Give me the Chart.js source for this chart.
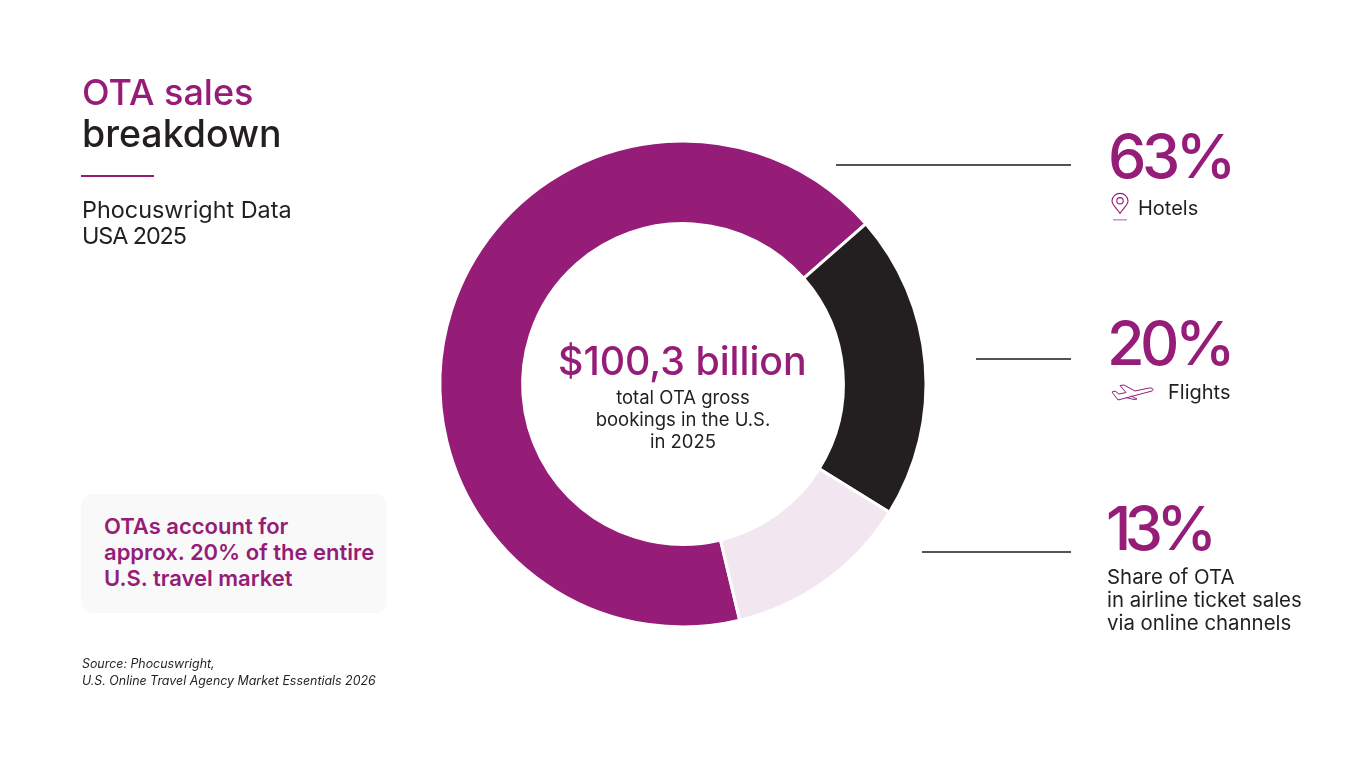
<!DOCTYPE html>
<html lang="en">
<head>
<meta charset="utf-8">
<title>OTA sales breakdown</title>
<script src="https://cdn.jsdelivr.net/npm/chart.js@4"></script>
<style>
  html, body { margin: 0; padding: 0; background: #fff; }
  #page { position: relative; width: 1366px; height: 768px; overflow: hidden; font-family: Inter, "Open Sans", sans-serif; color: #231f20; }
  #page canvas { position: absolute; left: 0; top: 0; }
  .t { position: absolute; white-space: nowrap; }
  .purple { color: #951d78; }
  .rule { position: absolute; height: 2px; background: #555355; }
  .pct { font-size: 61px; line-height: 70px; color: #951d78; font-weight: 500; letter-spacing: -4.5px; }
  .lbl { font-size: 20px; line-height: 23.5px; font-weight: 400; }
  svg { position: absolute; overflow: visible; }
</style>
</head>
<body>
<div id="page">
  <canvas id="donut" width="1366" height="768"></canvas>

  <div class="t purple" style="left:82px;top:70px;font-size:36px;line-height:44px;font-weight:500">OTA sales</div>
  <div class="t" style="left:82px;top:112px;font-size:37.5px;line-height:44px;font-weight:500">breakdown</div>
  <div class="rule" style="left:81px;top:175px;width:73px;background:#951d78"></div>
  <div class="t" style="left:82px;top:197px;font-size:23.4px;line-height:26px">Phocuswright Data<br><span style="letter-spacing:-1.1px">USA 2025</span></div>

  <div style="position:absolute;left:81px;top:494px;width:306px;height:119px;background:#f9f9f9;border-radius:12px"></div>
  <div class="t purple" style="left:104px;top:513px;font-size:22px;line-height:26px;font-weight:600">OTAs account for<br>approx. 20% of the entire<br>U.S. travel market</div>
  <div class="t" style="left:82px;top:656px;font-size:12.4px;line-height:16.5px;font-style:italic">Source: Phocuswright,<br>U.S. Online Travel Agency Market Essentials 2026</div>

  <div class="t purple" style="left:558px;top:336px;font-size:39.3px;line-height:50px;font-weight:500">$100,3 billion</div>
  <div class="t" style="left:563px;width:240px;text-align:center;top:386px;font-size:18.5px;line-height:22px">total OTA gross<br>bookings in the U.S.<br>in 2025</div>

  <div class="rule" style="left:836px;top:164px;width:235px"></div>
  <div class="rule" style="left:976px;top:358px;width:95px"></div>
  <div class="rule" style="left:922px;top:551px;width:149px"></div>

  <div class="t pct" id="pct0" style="left:1108px;top:121px"></div>
  <div class="t lbl" id="lbl0" style="left:1138px;top:197px"></div>
  <svg style="left:1111px;top:193px" width="18" height="28" viewBox="0 0 18 28" fill="none" stroke="#951d78" stroke-width="1.1">
    <path d="M9 20.5 C6 15.5 1 12 1 8 A8 7.6 0 0 1 17 8 C17 12 12 15.5 9 20.5 Z"/>
    <circle cx="9" cy="7.8" r="3.2"/>
    <path d="M2 26.8 H16" stroke-width="1.4" stroke="#c98abb"/>
  </svg>

  <div class="t pct" id="pct1" style="left:1107px;top:308px"></div>
  <div class="t lbl" id="lbl1" style="left:1168px;top:381px"></div>
  <svg style="left:1111px;top:384px" width="44" height="18" viewBox="0 0 44 18" fill="none" stroke="#951d78" stroke-width="1" stroke-linejoin="round">
    <path d="M1 8 L4 7 L8 10 L15 8.5 L9 1.5 L13 1 L24 7 L38 4 C42 3.5 43 6 41 7 L7 16 Z"/>
    <path d="M20 12 L26 15 L23 15.5 L15 13.5"/>
  </svg>

  <div class="t pct" id="pct2" style="left:1106px;top:493px;letter-spacing:-6.5px"></div>
  <div class="t" id="lbl2" style="left:1107px;top:565px;font-size:20.4px;line-height:23px"></div>
</div>

<script>
const categories = ['Hotels', 'Flights', 'Share of OTA<br>in airline ticket sales<br>via online channels'];
const sliceValues = [67.3, 20.3, 12.4];
const percentLabels = ['63%', '20%', '13%'];
const sliceColors = ['#951d78', '#231f20', '#f2e6f0'];

categories.forEach((c, i) => {
    document.getElementById('lbl' + i).innerHTML = c;
    document.getElementById('pct' + i).textContent = percentLabels[i];
});

new Chart(document.getElementById('donut'), {
    type: 'doughnut',
    data: {
        labels: ['Hotels', 'Flights', 'Share of OTA in airline ticket sales via online channels'],
        datasets: [{
            data: sliceValues,
            backgroundColor: sliceColors,
            borderColor: '#ffffff',
            borderWidth: 3,
            borderAlign: 'center',
            radius: 243
        }]
    },
    options: {
        responsive: false,
        animation: false,
        rotation: 166.5,
        cutout: '66%',
        layout: { padding: 0 },
        plugins: {
            legend: { display: false },
            tooltip: { enabled: false }
        }
    }
});
</script>
</body>
</html>
